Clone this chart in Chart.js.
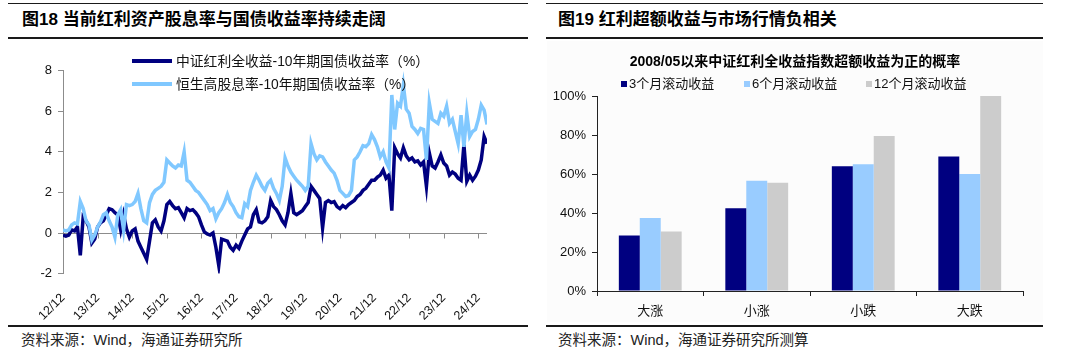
<!DOCTYPE html>
<html>
<head>
<meta charset="utf-8">
<script src="https://cdn.jsdelivr.net/npm/chart.js@4.4.1/dist/chart.umd.min.js"></script>
<style>
  html, body { margin:0; padding:0; background:#fff; }
  body { width:1080px; height:360px; position:relative; overflow:hidden;
         font-family:"Liberation Sans","Noto Sans CJK SC",sans-serif; color:#000; }
  .abs { position:absolute; }
  .hline { position:absolute; background:#1a1a1a; }
  .head { position:absolute; font-size:17px; font-weight:700; line-height:20px; white-space:nowrap; }
  .src { position:absolute; font-size:14.5px; line-height:16px; color:#222; white-space:nowrap; }
  .leg1 { position:absolute; font-size:13.8px; line-height:16px; white-space:nowrap; color:#111; }
  .leg1 .sw { display:inline-block; width:40px; height:4px; vertical-align:middle; margin-right:4px; position:relative; top:-1px; }
  .leg2 { position:absolute; font-size:13px; line-height:16px; white-space:nowrap; color:#111; }
  .leg2 .sq { display:inline-block; width:6px; height:6px; margin-right:2px; vertical-align:middle; position:relative; top:-1px; }
  .sub { position:absolute; font-size:14px; font-weight:700; line-height:18px; white-space:nowrap; text-align:center; }
</style>
</head>
<body>
<!-- left panel chrome -->
<div class="hline" style="left:8px;top:3px;width:520px;height:1px;"></div>
<div class="head" style="left:22px;top:10px;">图18 当前红利资产股息率与国债收益率持续走阔</div>
<div class="hline" style="left:8px;top:37px;width:520px;height:2px;"></div>
<div class="hline" style="left:8px;top:325px;width:520px;height:2px;"></div>
<div class="src" style="left:21px;top:332px;">资料来源：Wind，海通证券研究所</div>

<!-- right panel chrome -->
<div class="hline" style="left:546px;top:3px;width:497px;height:1px;"></div>
<div class="head" style="left:558px;top:10px;">图19 红利超额收益与市场行情负相关</div>
<div class="hline" style="left:546px;top:37px;width:497px;height:2px;"></div>
<div class="abs" style="left:547px;top:41px;width:496px;height:281px;background:#fcfcfc;"></div>
<div class="hline" style="left:546px;top:325px;width:497px;height:2px;"></div>
<div class="src" style="left:558px;top:332px;">资料来源：Wind，海通证券研究所测算</div>

<canvas id="c1" class="abs" style="left:0px;top:40px;" width="530" height="280"></canvas>
<canvas id="c2" class="abs" style="left:548px;top:42px;" width="493" height="278"></canvas>

<div id="legend1"></div>
<div id="legend2"></div>
<div id="sub2" class="sub" style="left:595px;top:52px;width:400px;"></div>

<script>
// ---------- Chart 18 data (monthly, 2012/12 .. 2025/03) ----------
const xTickLabels = ['12/12','13/12','14/12','15/12','16/12','17/12','18/12','19/12','20/12','21/12','22/12','23/12','24/12'];
const seriesNames1 = ['中证红利全收益-10年期国债收益率（%）', '恒生高股息率-10年期国债收益率（%）'];
const csiDividendSpread = [
  -0.1, -0.15, -0.1, 0.15, 0.1, 0.3, -1.1, 0.8, 0.6, 0.3,
  -0.5, -0.3, 0.3, 0.5, 0.6, 0.9, 1.2, 1.15, 1.0, 0.9,
  0.15, 0.9, 0.2, -0.2, 0.1, 0.2, -0.4, -0.7, -1.0, -1.3,
  -0.4, 0.5, 0.65, 0.3, 0.1, 0.6, 1.4, 1.55, 1.35, 1.2,
  1.25, 1.0, 0.75, 1.2, 1.1, 1.15, 1.0, 0.8, 0.4, 0.05,
  -0.05, -0.1, 0.0, -0.7, -1.6, -0.3, -0.35, -0.4, -0.7, -0.85,
  -0.6, -0.75, -0.4, -0.1, 0.2, 0.3, 0.9, 1.15, 0.55, 0.5,
  0.6, 0.8, 1.6, 1.3, 1.15, 0.9, 0.6, 0.4, 1.0, 1.95,
  1.0, 0.9, 1.0, 1.1, 1.3, 1.5, 2.3, 2.1, 1.9, 1.7,
  0.25, 1.5, 1.6, 1.5, 1.55, 1.3, 1.2, 1.35, 1.25, 1.4,
  1.5, 1.6, 1.8, 1.9, 2.1, 2.2, 2.4, 2.6, 2.6, 2.75,
  2.85, 3.1, 2.7, 2.85, 1.1, 4.2, 3.9, 3.7, 4.2, 3.8,
  3.6, 3.7, 3.5, 3.55, 3.35, 3.5, 2.3, 3.95, 3.3, 3.2,
  3.5, 3.85, 3.45, 3.3, 2.85, 3.0, 2.9, 2.7, 2.6, 4.35,
  2.55, 2.85, 2.6, 2.8, 3.1, 3.6, 4.75, 4.4
];
const hsHighDividendSpread = [
  0.15, 0.1, 0.15, 0.4, 0.5, 0.45, 1.55, 1.2, 0.6, 0.4,
  -0.35, -0.1, 0.3, 0.55, 0.9, 1.0, 0.6, 0.3, -0.2, 0.9,
  1.15, 0.15, 1.4, 1.35, 1.4, 1.55, 1.95, 1.2, 0.6, 0.5,
  1.5, 1.9, 2.1, 2.2, 2.3, 2.5, 3.6, 3.45, 3.3, 3.2,
  3.35, 3.3, 4.0, 2.6, 2.5, 2.3, 2.1, 2.0, 1.8, 1.6,
  1.4, 1.1, 1.2, 0.7, 1.0, 1.2, 1.5, 1.9, 1.5, 1.3,
  1.0, 0.8, 0.75, 1.45, 1.3, 2.1, 2.5, 2.85, 2.6, 2.3,
  2.1, 2.45, 2.6, 2.2, 1.95, 1.6, 2.3, 3.7, 3.3, 3.0,
  2.8, 2.6, 2.45, 2.3, 2.1, 2.3, 4.4, 3.9, 3.6, 3.8,
  3.75, 3.5, 3.3, 3.1, 2.95, 2.6, 2.1, 1.95, 1.8, 1.85,
  2.1, 3.6, 3.75, 4.0, 4.3, 4.25, 4.4, 4.85, 4.6, 4.25,
  3.75, 4.0, 3.5, 3.2, 6.8, 5.1, 6.4, 6.25, 7.3, 6.1,
  5.9, 5.25, 5.1, 4.9, 5.15, 5.1, 3.6, 6.4, 5.6, 5.5,
  5.4, 5.9, 5.75, 6.25, 5.4, 5.6, 5.0, 4.4, 5.8, 4.25,
  5.9, 4.75, 5.0, 5.1, 5.6, 6.3, 6.05, 5.35
];

// ---------- Chart 19 data ----------
const chart19Title = '2008/05以来中证红利全收益指数超额收益为正的概率';
const marketStates = ['大涨', '小涨', '小跌', '大跌'];
const rollingNames = ['3个月滚动收益', '6个月滚动收益', '12个月滚动收益'];
const prob3m = [28.5, 42.5, 64, 69];
const prob6m = [37.5, 56.5, 65, 60];
const prob12m = [30.5, 55.5, 79.5, 100];
const yTickStep2 = 20;

const colors1 = ['#000080', '#80c8ff'];
const colors2 = ['#000080', '#99ccff', '#cccccc'];

const FONT = '"Liberation Sans","Noto Sans CJK SC",sans-serif';
Chart.defaults.font.family = FONT;

// ---------- HTML legends / subtitle ----------
const lg1 = document.getElementById('legend1');
seriesNames1.forEach((n, i) => {
  const d = document.createElement('div');
  d.className = 'leg1';
  d.style.left = '132px';
  d.style.top = (54 + i * 23) + 'px';
  d.innerHTML = '<span class="sw" style="background:' + colors1[i] + '"></span>' + n;
  lg1.appendChild(d);
});
const lg2 = document.getElementById('legend2');
const leg2X = [621, 744, 866];
rollingNames.forEach((n, i) => {
  const d = document.createElement('div');
  d.className = 'leg2';
  d.style.left = leg2X[i] + 'px';
  d.style.top = '76px';
  d.innerHTML = '<span class="sq" style="background:' + colors2[i] + '"></span>' + n;
  lg2.appendChild(d);
});
document.getElementById('sub2').textContent = chart19Title;

// ---------- plugin: tick marks on the zero line ----------
const zeroTicks = {
  id: 'zeroTicks',
  beforeDatasetsDraw(chart) {
    const xs = chart.scales.x, ys = chart.scales.y, ctx = chart.ctx;
    const y0 = Math.round(ys.getPixelForValue(0)) + 0.5;
    ctx.save();
    ctx.strokeStyle = '#8c8c8c';
    ctx.lineWidth = 1;
    xs.ticks.forEach(t => {
      const px = Math.round(xs.getPixelForValue(t.value)) + 0.5;
      ctx.beginPath(); ctx.moveTo(px, y0); ctx.lineTo(px, y0 + 5); ctx.stroke();
    });
    ctx.restore();
  }
};

// ---------- Chart 18 ----------
new Chart(document.getElementById('c1'), {
  type: 'line',
  data: {
    datasets: [
      { label: seriesNames1[0], data: csiDividendSpread.map((v, i) => ({x: i, y: v})),
        borderColor: colors1[0], backgroundColor: colors1[0], borderWidth: 3.5, pointRadius: 0, tension: 0, order: 1 },
      { label: seriesNames1[1], data: hsHighDividendSpread.map((v, i) => ({x: i, y: v})),
        borderColor: colors1[1], backgroundColor: colors1[1], borderWidth: 3.5, pointRadius: 0, tension: 0, order: 0 }
    ]
  },
  options: {
    responsive: false, animation: false, events: [],
    layout: { padding: { left: 0, right: 43, top: 30.6, bottom: 0 } },
    plugins: { legend: { display: false }, tooltip: { enabled: false } },
    scales: {
      x: {
        type: 'linear', min: 0, max: csiDividendSpread.length - 1,
        grid: { display: false }, border: { display: false },
        afterBuildTicks: s => { s.ticks = xTickLabels.map((_, i) => ({ value: i * 12 })); },
        ticks: { autoSkip: false, minRotation: 45, maxRotation: 45, padding: 9,
                 font: { size: 12.5 }, color: '#111',
                 callback: v => xTickLabels[Math.round(v / 12)] },
        afterFit: s => { s.height = 46.4; }
      },
      y: {
        min: -2, max: 8,
        ticks: { stepSize: 2, padding: 6, font: { size: 13 }, color: '#111' },
        grid: { color: c => (c.tick && c.tick.value === 0) ? '#8c8c8c' : 'rgba(0,0,0,0)',
                tickColor: '#8c8c8c', tickLength: 5, lineWidth: 1 },
        border: { display: true, color: '#8c8c8c' },
        afterFit: s => { s.width = 63; }
      }
    }
  },
  plugins: [zeroTicks]
});

// ---------- Chart 19 ----------
new Chart(document.getElementById('c2'), {
  type: 'bar',
  data: {
    labels: marketStates,
    datasets: [
      { label: rollingNames[0], data: prob3m, backgroundColor: colors2[0] },
      { label: rollingNames[1], data: prob6m, backgroundColor: colors2[1] },
      { label: rollingNames[2], data: prob12m, backgroundColor: colors2[2] }
    ]
  },
  options: {
    responsive: false, animation: false, events: [],
    layout: { padding: { left: 0, right: 18, top: 54, bottom: 0 } },
    datasets: { bar: { categoryPercentage: 0.59, barPercentage: 1.0 } },
    plugins: { legend: { display: false }, tooltip: { enabled: false } },
    scales: {
      x: {
        grid: { display: true, drawOnChartArea: false, drawTicks: true, tickLength: 5, color: '#222', offset: true },
        border: { display: true, color: '#222' },
        ticks: { padding: 8, font: { size: 13 }, color: '#111' },
        afterFit: s => { s.height = 29; }
      },
      y: {
        min: 0, max: 100,
        ticks: { stepSize: yTickStep2, padding: 6, font: { size: 13 }, color: '#111', callback: v => v + '%' },
        grid: { drawOnChartArea: false, drawTicks: true, tickLength: 5, color: '#222' },
        border: { display: true, color: '#222' },
        afterFit: s => { s.width = 49; }
      }
    }
  }
});
</script>
</body>
</html>
